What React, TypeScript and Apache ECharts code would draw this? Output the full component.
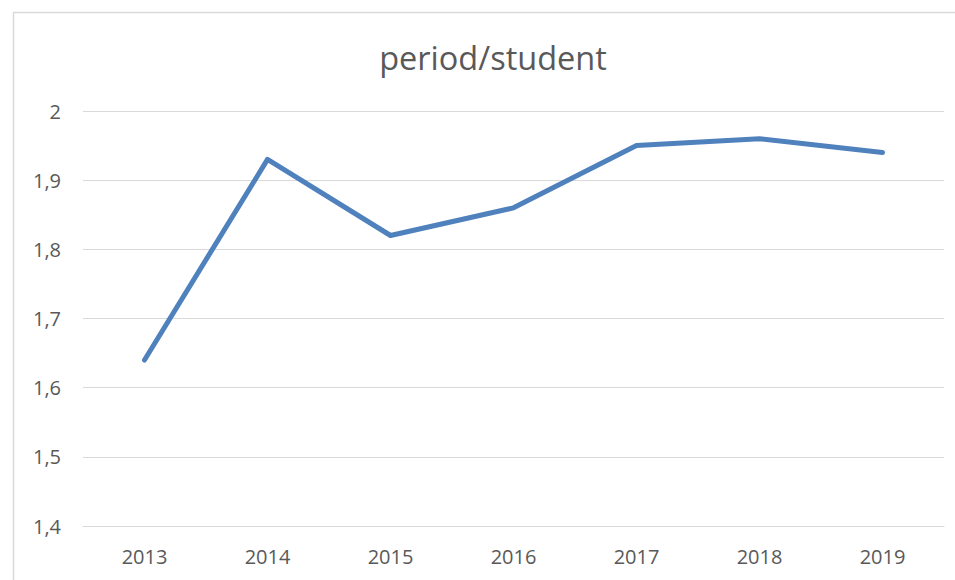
import React, { useEffect, useRef } from "react";
import * as echarts from "echarts";

const titleText = "period/student";
const years = ["2013", "2014", "2015", "2016", "2017", "2018", "2019"];
const values = [1.64, 1.93, 1.82, 1.86, 1.95, 1.96, 1.94];
const yMin = 1.4;
const yMax = 2.0;
const yStep = 0.1;

export default function App() {
  const ref = useRef<HTMLDivElement>(null);
  useEffect(() => {
    document.body.style.margin = "0";
    const chart = echarts.init(ref.current!, null, { renderer: "svg" });
    chart.setOption({
      animation: false,
      backgroundColor: "#ffffff",
      graphic: [
        {
          type: "rect",
          shape: { x: 13.5, y: 12.5, width: 1200, height: 1200 },
          style: { fill: "none", stroke: "#d9d9d9", lineWidth: 1.5 },
          silent: true,
        },
        {
          type: "text",
          x: 493,
          y: 57,
          style: {
            text: titleText,
            fontFamily: "Open Sans",
            fontSize: 32.5,
            fill: "#595959",
            textAlign: "center",
            textVerticalAlign: "middle",
          },
          silent: true,
        },
      ],
      grid: { left: 83, right: 11, top: 111, bottom: 54 },
      xAxis: {
        type: "category",
        data: years,
        boundaryGap: true,
        axisLine: { show: true, lineStyle: { color: "#d9d9d9", width: 1 } },
        axisTick: { show: false },
        axisLabel: {
          fontFamily: "Open Sans",
          fontSize: 20,
          color: "#595959",
          margin: 20,
        },
      },
      yAxis: {
        type: "value",
        min: yMin,
        max: yMax,
        interval: yStep,
        axisLine: { show: false },
        axisTick: { show: false },
        splitLine: { lineStyle: { color: "#d9d9d9", width: 1 } },
        axisLabel: {
          fontFamily: "Open Sans",
          fontSize: 20,
          color: "#595959",
          margin: 22,
          formatter: (v: number) => {
            const r = Math.round(v * 10) / 10;
            return Number.isInteger(r) ? String(r) : r.toFixed(1).replace(".", ",");
          },
        },
      },
      series: [
        {
          type: "line",
          data: values,
          showSymbol: false,
          lineStyle: { color: "#4f81bd", width: 5, cap: "round", join: "round" },
          itemStyle: { color: "#4f81bd" },
        },
      ],
    });
    return () => chart.dispose();
  }, []);
  return <div ref={ref} style={{ width: 955, height: 580 }} />;
}
